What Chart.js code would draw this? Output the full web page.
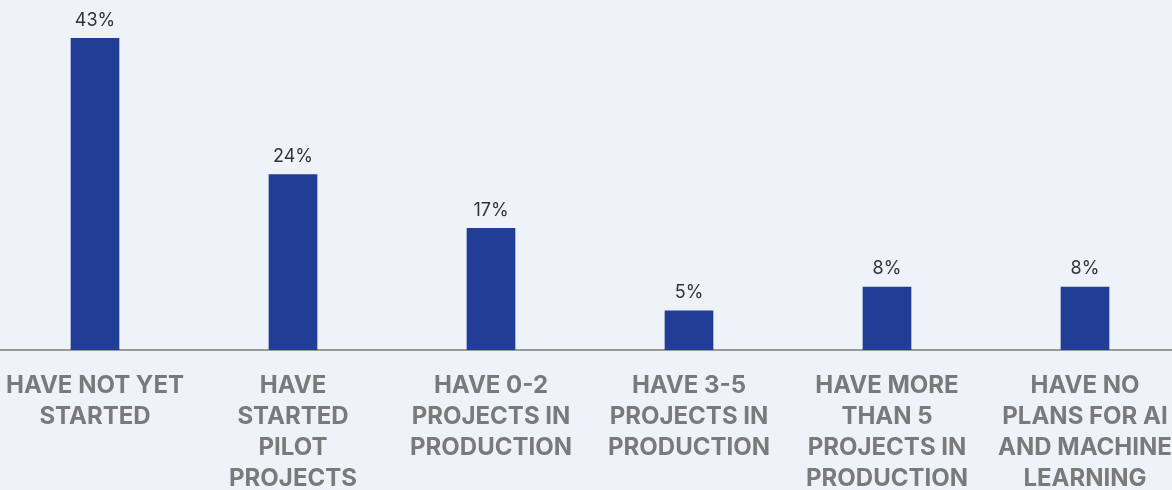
<!DOCTYPE html>
<html>
<head>
<meta charset="utf-8">
<script src="https://cdn.jsdelivr.net/npm/chart.js@4"></script>
<style>
  html, body { margin: 0; padding: 0; background: #eef2f9; overflow: hidden; }
  #wrap { position: absolute; left: -4px; top: 0; width: 1188px; height: 494px; }
</style>
</head>
<body>
<div id="wrap"><canvas id="barChart"></canvas></div>
<script>
var categories = [
  ['HAVE NOT YET', 'STARTED'],
  ['HAVE', 'STARTED', 'PILOT', 'PROJECTS'],
  ['HAVE 0-2', 'PROJECTS IN', 'PRODUCTION'],
  ['HAVE 3-5', 'PROJECTS IN', 'PRODUCTION'],
  ['HAVE MORE', 'THAN 5', 'PROJECTS IN', 'PRODUCTION'],
  ['HAVE NO', 'PLANS FOR AI', 'AND MACHINE', 'LEARNING']
];
var values = [43, 24.2, 16.8, 5.4, 8.7, 8.7];
var valueLabels = ['43%', '24%', '17%', '5%', '8%', '8%'];

// writes the % above each bar
var valueLabelPlugin = {
  id: 'valueLabels',
  afterDatasetsDraw: function (chart) {
    var ctx = chart.ctx;
    var meta = chart.getDatasetMeta(0);
    ctx.save();
    ctx.font = '18px Inter';
    ctx.fillStyle = '#333333';
    ctx.textAlign = 'center';
    ctx.textBaseline = 'bottom';
    meta.data.forEach(function (bar, i) {
      ctx.fillText(valueLabels[i], bar.x, bar.y - 9);
    });
    ctx.restore();
  }
};

var ctx = document.getElementById('barChart').getContext('2d');
var myBarChart = new Chart(ctx, {
  type: 'bar',
  data: {
    labels: categories,
    datasets: [{
      data: values,
      backgroundColor: '#223d95',
      barThickness: 48
    }]
  },
  options: {
    responsive: true,
    maintainAspectRatio: false,
    animation: false,
    layout: { padding: 0 },
    plugins: {
      legend: { display: false },
      tooltip: { enabled: false }
    },
    scales: {
      x: {
        grid: { display: false, drawTicks: true, tickLength: 20 },
        border: { display: true, color: '#999999', width: 2 },
        ticks: {
          autoSkip: false,
          maxRotation: 0,
          padding: 0,
          color: '#7a7a7a',
          font: { family: 'Inter', size: 24, weight: 'bold', lineHeight: '31px' }
        }
      },
      y: {
        display: false,
        min: 0,
        max: 48.3
      }
    }
  },
  plugins: [valueLabelPlugin]
});
</script>
</body>
</html>
